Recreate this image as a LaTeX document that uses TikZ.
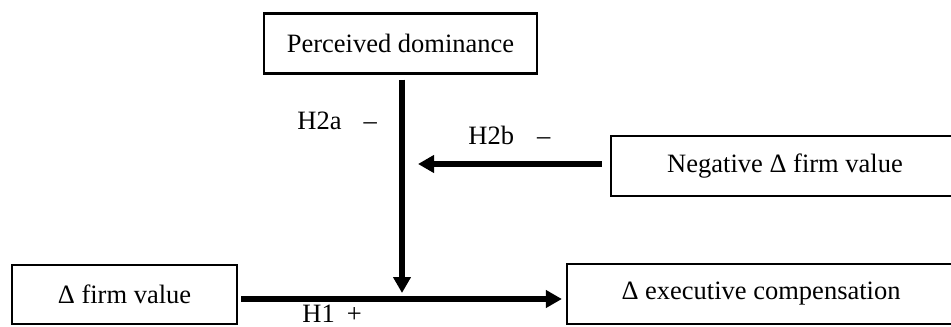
\documentclass[tikz,border=0pt]{standalone}
\usepackage{fontspec}
\setmainfont{Liberation Serif}
\usetikzlibrary{arrows.meta,positioning}

\begin{document}
\begin{tikzpicture}[x=0.5pt,y=-0.5pt,>={Triangle[length=8pt,width=8.5pt]},
    font=\fontsize{13.25}{16}\selectfont,
    box/.style={draw,line width=1.1pt,inner sep=0pt,minimum height=30pt},
    link/.style={->,line width=2.75pt},
    hyp/.style={inner sep=0pt,anchor=base west}]

  \useasboundingbox (0,0) rectangle (951,326);
  \clip (0,0) rectangle (951,326);

  \node[box,minimum width=136.5pt] (dom)  at (400.5,43.5) {Perceived dominance};
  \node[box,minimum width=174pt]   (neg)  at (785,166)    {Negative Δ firm value};
  \node[box,minimum width=112.5pt,minimum height=29.5pt] (firm) at (124.5,294.5) {Δ firm value};
  \node[box,minimum width=194pt]   (exec) at (761,294)    {Δ executive compensation};

  \coordinate (meet) at (402,299);
  \coordinate (join) at (402,164);

  \draw[link,shorten <=1.5pt,shorten >=2pt] ([yshift=-2.25pt]firm.east) -- ([yshift=-2.25pt]firm.east -| exec.west);
  \draw[link,shorten <=2.5pt,shorten >=3pt] (meet |- dom.south) -- (meet);
  \draw[link,shorten <=4pt,shorten >=8pt] (join -| neg.west) -- (join);

  \node[hyp] (h2a) at (297,129) {H2a\hspace{11pt}–};
  \node[hyp] (h2b) at (468,144) {H2b\hspace{11.5pt}–};
  \node[hyp] (h1)  at (302,322) {H1\hspace{6pt}+};
\end{tikzpicture}
\end{document}
